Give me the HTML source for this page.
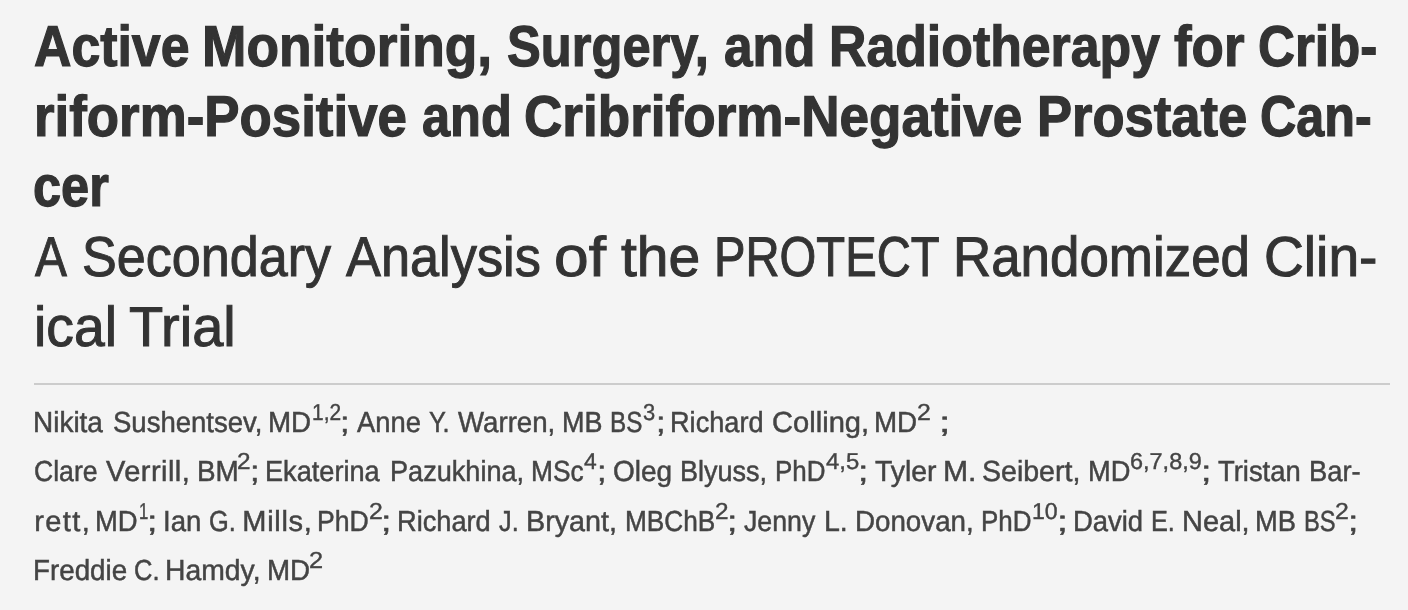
<!DOCTYPE html>
<html lang="en">
<head>
<meta charset="utf-8">
<title>Active Monitoring, Surgery, and Radiotherapy for Cribriform-Positive and Cribriform-Negative Prostate Cancer</title>
<style>
html,body{margin:0;padding:0;background:#f4f4f4;}
body{text-rendering:geometricPrecision;width:1408px;height:610px;position:relative;overflow:hidden;font-family:"Liberation Sans", sans-serif;}
.w{position:absolute;white-space:pre;transform-origin:0 0;display:block;margin:0;padding:0;}
h1,h2,p{margin:0;padding:0;font-weight:400;}
h1 .w{color:#333;}
h1 b .w{font-weight:700;font-size:57.5px;line-height:60px;-webkit-text-stroke:1.2px #333;}
h1 .sub .w{font-size:56.1px;line-height:60px;-webkit-text-stroke:1.0px #333;}
h1 b{font-weight:700;}
.sub .w{font-weight:400;}
hr{position:absolute;left:34px;top:383px;width:1356px;height:2px;border:0;margin:0;background:#ccc;}
p.authors .w{font-size:29px;line-height:30px;color:#444;-webkit-text-stroke:0.5px #444;}
p.authors sup.w{font-size:23px;line-height:24px;vertical-align:baseline;-webkit-text-stroke:0.4px #444;}
</style>
</head>
<body>
<h1><b>
<span class="w" style="left:33.74px;top:17px;transform:scaleX(0.901)">Active</span>
<span class="w" style="left:202.374px;top:17px;transform:scaleX(0.927)">Monitoring,</span>
<span class="w" style="left:506.748px;top:17px;transform:scaleX(0.881)">Surgery,</span>
<span class="w" style="left:724.242px;top:17px;transform:scaleX(0.894)">and</span>
<span class="w" style="left:828.939px;top:17px;transform:scaleX(0.901)">Radiotherapy</span>
<span class="w" style="left:1173.652px;top:17px;transform:scaleX(0.92)">for</span>
<span class="w" style="left:1258.354px;top:17px;transform:scaleX(0.89)">Crib-</span>
<span class="w" style="left:33.643px;top:87px;transform:scaleX(0.919)">riform-Positive</span>
<span class="w" style="left:421.748px;top:87px;transform:scaleX(0.879)">and</span>
<span class="w" style="left:524.308px;top:87px;transform:scaleX(0.923)">Cribriform-Negative</span>
<span class="w" style="left:1036.656px;top:87px;transform:scaleX(0.914)">Prostate</span>
<span class="w" style="left:1259.877px;top:87px;transform:scaleX(0.874)">Can-</span>
<span class="w" style="left:33.37px;top:157px;transform:scaleX(0.878)">cer</span>
</b><span class="sub">
<span class="w" style="left:35.027px;top:227px;transform:scaleX(0.854)">A</span>
<span class="w" style="left:81.957px;top:227px;transform:scaleX(0.929)">Secondary</span>
<span class="w" style="left:346.066px;top:227px;transform:scaleX(0.933)">Analysis</span>
<span class="w" style="left:554.434px;top:227px;transform:scaleX(1.11)">of</span>
<span class="w" style="left:620.858px;top:227px;transform:scaleX(1.017)">the</span>
<span class="w" style="left:714.403px;top:227px;transform:scaleX(0.842)">PROTECT</span>
<span class="w" style="left:953.3px;top:227px;transform:scaleX(0.943)">Randomized</span>
<span class="w" style="left:1263.624px;top:227px;transform:scaleX(0.984)">Clin-</span>
<span class="w" style="left:34.137px;top:297px;transform:scaleX(0.985)">ical</span>
<span class="w" style="left:129.101px;top:297px;transform:scaleX(0.998)">Trial</span>
</span></h1>
<hr>
<p class="authors">
<span class="w" style="left:33.413px;top:408px;transform:scaleX(0.964)">Nikita</span>
<span class="w" style="left:112.638px;top:408px;transform:scaleX(0.949)">Sushentsev,</span>
<span class="w" style="left:268.426px;top:408px;transform:scaleX(0.956)">MD</span>
<sup class="w" style="left:312.123px;top:400px;transform:scaleX(0.909)">1,2</sup>
<span class="w" style="left:340.039px;top:408px;transform:scaleX(1.178)">;</span>
<span class="w" style="left:357.336px;top:408px;transform:scaleX(0.943)">Anne</span>
<span class="w" style="left:429.318px;top:408px;transform:scaleX(0.873)">Y.</span>
<span class="w" style="left:457.838px;top:408px;transform:scaleX(0.953)">Warren,</span>
<span class="w" style="left:562.473px;top:408px;transform:scaleX(0.93)">MB</span>
<span class="w" style="left:610.137px;top:408px;transform:scaleX(0.836)">BS</span>
<sup class="w" style="left:643.29px;top:400px;transform:scaleX(0.952)">3</sup>
<span class="w" style="left:655.539px;top:408px;transform:scaleX(1.178)">;</span>
<span class="w" style="left:670.462px;top:408px;transform:scaleX(0.936)">Richard</span>
<span class="w" style="left:771.597px;top:408px;transform:scaleX(1.004)">Colling,</span>
<span class="w" style="left:874.426px;top:408px;transform:scaleX(0.956)">MD</span>
<sup class="w" style="left:917.237px;top:400px;transform:scaleX(1.079)">2</sup>
<span class="w" style="left:939.15px;top:408px;transform:scaleX(1.4)">;</span>
<span class="w" style="left:33.912px;top:457px;transform:scaleX(0.917)">Clare</span>
<span class="w" style="left:106.1px;top:457px;letter-spacing:0.434px">Verrill,</span>
<span class="w" style="left:196.668px;top:457px;transform:scaleX(0.961)">BM</span>
<sup class="w" style="left:237.004px;top:449px;transform:scaleX(1.057)">2</sup>
<span class="w" style="left:249.539px;top:457px;transform:scaleX(1.178)">;</span>
<span class="w" style="left:265.462px;top:457px;transform:scaleX(0.936)">Ekaterina</span>
<span class="w" style="left:389.964px;top:457px;transform:scaleX(0.935)">Pazukhina,</span>
<span class="w" style="left:531.013px;top:457px;transform:scaleX(0.907)">MSc</span>
<sup class="w" style="left:584.299px;top:449px;transform:scaleX(0.993)">4</sup>
<span class="w" style="left:597.039px;top:457px;transform:scaleX(1.178)">;</span>
<span class="w" style="left:612.876px;top:457px;transform:scaleX(0.965)">Oleg</span>
<span class="w" style="left:679.969px;top:457px;transform:scaleX(0.932)">Blyuss,</span>
<span class="w" style="left:774.534px;top:457px;transform:scaleX(0.895)">PhD</span>
<sup class="w" style="left:825.558px;top:449px;transform:scaleX(1.039)">4,5</sup>
<span class="w" style="left:858.344px;top:457px;transform:scaleX(1.289)">;</span>
<span class="w" style="left:874.845px;top:457px;transform:scaleX(0.978)">Tyler</span>
<span class="w" style="left:942.78px;top:457px;transform:scaleX(1.04)">M.</span>
<span class="w" style="left:982.362px;top:457px;transform:scaleX(0.984)">Seibert,</span>
<span class="w" style="left:1087.707px;top:457px;transform:scaleX(0.939)">MD</span>
<sup class="w" style="left:1130.284px;top:449px;transform:scaleX(1.02)">6,7,8,9</sup>
<span class="w" style="left:1200.844px;top:457px;transform:scaleX(1.289)">;</span>
<span class="w" style="left:1218.336px;top:457px;transform:scaleX(0.944)">Tristan</span>
<span class="w" style="left:1308.952px;top:457px;transform:scaleX(0.942)">Bar-</span>
<span class="w" style="left:34.35px;top:507px;letter-spacing:1.35px">rett,</span>
<span class="w" style="left:95.447px;top:507px;transform:scaleX(0.945)">MD</span>
<sup class="w" style="left:139.018px;top:499px;transform:scaleX(0.728)">1</sup>
<span class="w" style="left:147.344px;top:507px;transform:scaleX(1.289)">;</span>
<span class="w" style="left:162.938px;top:507px;transform:scaleX(0.95)">Ian</span>
<span class="w" style="left:208.944px;top:507px;transform:scaleX(0.875)">G.</span>
<span class="w" style="left:242.35px;top:507px;letter-spacing:0.663px">Mills,</span>
<span class="w" style="left:317.493px;top:507px;transform:scaleX(0.918)">PhD</span>
<sup class="w" style="left:368.737px;top:499px;transform:scaleX(1.079)">2</sup>
<span class="w" style="left:381.344px;top:507px;transform:scaleX(1.289)">;</span>
<span class="w" style="left:397.458px;top:507px;transform:scaleX(0.938)">Richard</span>
<span class="w" style="left:499.318px;top:507px;transform:scaleX(0.871)">J.</span>
<span class="w" style="left:526.115px;top:507px;transform:scaleX(0.991)">Bryant,</span>
<span class="w" style="left:624.517px;top:507px;transform:scaleX(0.904)">MBChB</span>
<sup class="w" style="left:714.504px;top:499px;transform:scaleX(1.057)">2</sup>
<span class="w" style="left:726.844px;top:507px;transform:scaleX(1.289)">;</span>
<span class="w" style="left:744.331px;top:507px;transform:scaleX(0.922)">Jenny</span>
<span class="w" style="left:824.378px;top:507px;transform:scaleX(0.984)">L.</span>
<span class="w" style="left:854.927px;top:507px;transform:scaleX(0.956)">Donovan,</span>
<span class="w" style="left:980.784px;top:507px;transform:scaleX(0.895)">PhD</span>
<sup class="w" style="left:1032.296px;top:499px;transform:scaleX(1.004)">10</sup>
<span class="w" style="left:1056.997px;top:507px;transform:scaleX(1.344)">;</span>
<span class="w" style="left:1073.447px;top:507px;transform:scaleX(0.945)">David</span>
<span class="w" style="left:1151.073px;top:507px;transform:scaleX(0.872)">E.</span>
<span class="w" style="left:1181.853px;top:507px;transform:scaleX(0.999)">Neal,</span>
<span class="w" style="left:1255.201px;top:507px;transform:scaleX(0.942)">MB</span>
<span class="w" style="left:1303.673px;top:507px;transform:scaleX(0.816)">BS</span>
<sup class="w" style="left:1335.237px;top:499px;transform:scaleX(1.079)">2</sup>
<span class="w" style="left:1348.344px;top:507px;transform:scaleX(1.289)">;</span>
<span class="w" style="left:33.426px;top:556px;transform:scaleX(0.957)">Freddie</span>
<span class="w" style="left:133.939px;top:556px;transform:scaleX(0.881)">C.</span>
<span class="w" style="left:165.39px;top:556px;transform:scaleX(0.977)">Hamdy,</span>
<span class="w" style="left:266.676px;top:556px;transform:scaleX(0.956)">MD</span>
<sup class="w" style="left:309.469px;top:548px;transform:scaleX(1.101)">2</sup>
</p>
</body>
</html>
